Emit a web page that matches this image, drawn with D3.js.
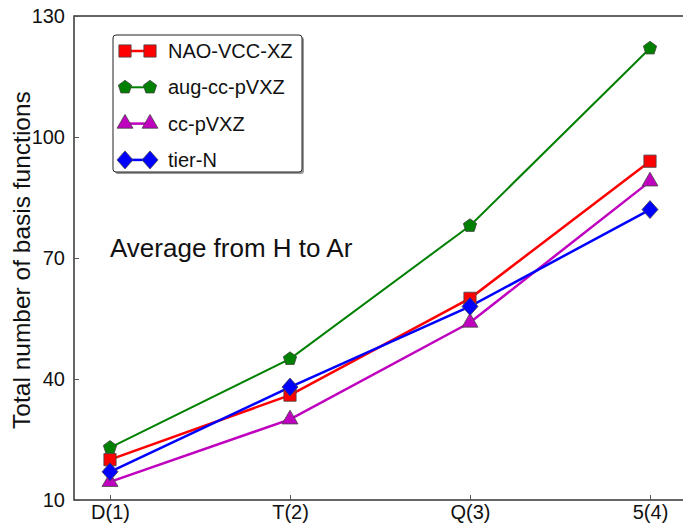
<!DOCTYPE html>
<html>
<head>
<meta charset="utf-8">
<script src="https://cdn.jsdelivr.net/npm/d3@7"></script>
<style>
    body { margin: 0; background: #fff; }
    #chart { width: 683px; height: 525px; }
    text { font-family: "Liberation Sans", Arial, sans-serif; fill: #111; }
</style>
</head>
<body>
<div id="chart"></div>
<script>
// data
var categories = ['D(1)', 'T(2)', 'Q(3)', '5(4)'];
var naoVcc = [20, 36, 60, 94];
var augCc = [23, 45, 78, 122];
var ccPv = [14.5, 30, 54, 89];
var tierN = [17, 38, 58, 82];
var yTicks = [10, 40, 70, 100, 130];

var series = [
    { 'name': 'NAO-VCC-XZ', 'values': naoVcc, 'color': '#ff0000', 'shape': 'square', 'width': 2.5 },
    { 'name': 'aug-cc-pVXZ', 'values': augCc, 'color': '#008000', 'shape': 'pentagon', 'width': 2 },
    { 'name': 'cc-pVXZ', 'values': ccPv, 'color': '#bf00bf', 'shape': 'triangle', 'width': 2.5 },
    { 'name': 'tier-N', 'values': tierN, 'color': '#0000ff', 'shape': 'diamond', 'width': 2.5 }
];

var chartWidth = 683;
var chartHeight = 525;

var svg = d3.select('#chart')
    .append('svg')
        .attr('width', chartWidth)
        .attr('height', chartHeight)
;

var plotLeft = 74, plotTop = 16, plotBottom = 500, plotRight = 700;

var x = d3.scalePoint()
    .domain(categories)
    .range([110, 650])
;
var y = d3.scaleLinear()
    .domain([10, 130])
    .range([plotBottom, plotTop])
;

// marker shapes
function markerPath(shape) {
    if (shape == 'square') return d3.symbol().type(d3.symbolSquare).size(150)();
    if (shape == 'triangle') return d3.symbol().type(d3.symbolTriangle).size(110)();
    if (shape == 'diamond') return 'M0,-9L8,0L0,9L-8,0Z';
    // pentagon
    var pts = [];
    for (var k = 0; k < 5; k++) {
        var a = -Math.PI / 2 + k * 2 * Math.PI / 5;
        pts.push([7 * Math.cos(a), 7 * Math.sin(a)]);
    }
    return 'M' + pts.join('L') + 'Z';
}

// frame
svg.append('path')
    .attr('d', 'M' + plotRight + ',' + plotTop + 'H' + plotLeft + 'V' + plotBottom + 'H' + plotRight)
    .style('fill', 'none')
    .style('stroke', '#333')
    .style('stroke-width', 1.5)
;

// axes
var yAxis = svg.append('g')
    .attr('transform', 'translate(' + plotLeft + ',0)')
    .call(d3.axisLeft(y).tickValues(yTicks).tickSizeInner(-5).tickSizeOuter(0).tickPadding(9))
;
var xAxis = svg.append('g')
    .attr('transform', 'translate(0,' + plotBottom + ')')
    .call(d3.axisBottom(x).tickSizeInner(-5).tickSizeOuter(0).tickPadding(5))
;
[yAxis, xAxis].forEach(function(g) {
    g.select('.domain').remove();
    g.selectAll('line').style('stroke', '#555');
    g.selectAll('text')
        .style('font-family', '"Liberation Sans", Arial, sans-serif')
        .style('font-size', '20px')
        .style('fill', '#111');
});

// lines
var line = d3.line()
    .x(function(d, i) { return x(categories[i]) })
    .y(function(d) { return y(d) })
;

svg.append('g')
    .selectAll('path')
    .data(series)
    .enter().append('path')
        .attr('d', function(d) { return line(d.values) })
        .style('fill', 'none')
        .style('stroke', function(d) { return d.color })
        .style('stroke-width', function(d) { return d.width })
;

// markers
series.forEach(function(s) {
    svg.append('g')
        .selectAll('path')
        .data(s.values)
        .enter().append('path')
            .attr('transform', function(d, i) {
                return 'translate(' + x(categories[i]) + ',' + y(d) + ')'
            })
            .attr('d', markerPath(s.shape))
            .style('fill', s.color)
            .style('stroke', '#444')
            .style('stroke-width', 0.8)
    ;
});

// legend
var legend = svg.append('g');
legend.append('rect')
    .attr('x', 115).attr('y', 37)
    .attr('width', 189).attr('height', 137)
    .attr('rx', 3)
    .style('fill', '#999')
;
legend.append('rect')
    .attr('x', 113).attr('y', 35)
    .attr('width', 189).attr('height', 137)
    .attr('rx', 3)
    .style('fill', '#fff')
    .style('stroke', '#222')
    .style('stroke-width', 1)
;
var rows = legend.selectAll('g.row')
    .data(series)
    .enter().append('g')
        .attr('class', 'row')
        .attr('transform', function(d, i) { return 'translate(0,' + (51 + i * 36.3) + ')' })
;
rows.append('line')
    .attr('x1', 125).attr('x2', 150)
    .style('stroke', function(d) { return d.color })
    .style('stroke-width', function(d) { return d.width })
;
[125, 150].forEach(function(mx) {
    rows.append('path')
        .attr('transform', 'translate(' + mx + ',0)')
        .attr('d', function(d) { return markerPath(d.shape) })
        .style('fill', function(d) { return d.color })
        .style('stroke', '#444')
        .style('stroke-width', 0.8)
    ;
});
rows.append('text')
    .attr('x', 168)
    .attr('y', 7)
    .text(function(d) { return d.name })
    .style('font-size', '20px')
;

// annotation
svg.append('text')
    .attr('x', 110)
    .attr('y', 257)
    .text('Average from H to Ar')
    .style('font-size', '26px')
;

// y label
svg.append('text')
    .attr('transform', 'translate(30,260) rotate(-90)')
    .style('text-anchor', 'middle')
    .style('font-size', '24.5px')
    .text('Total number of basis functions')
;
</script>
</body>
</html>
